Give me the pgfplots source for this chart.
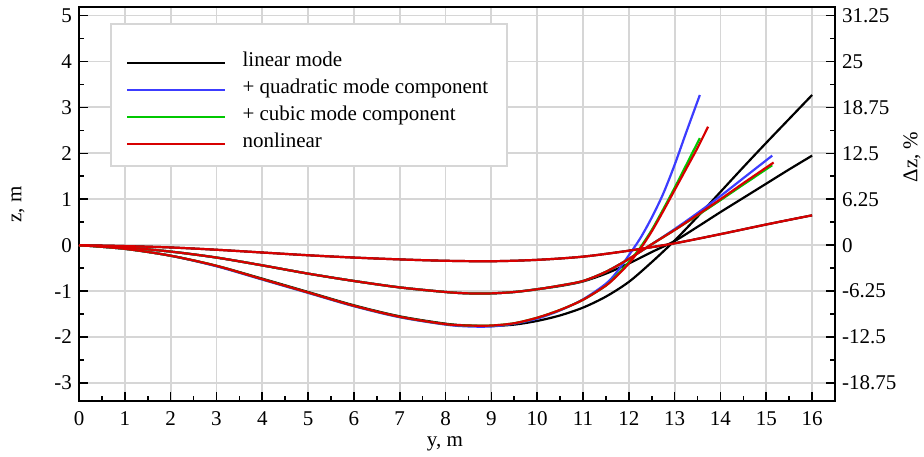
\documentclass[border=0pt]{standalone}
\usepackage{fontspec}
\setmainfont{Liberation Serif}
\usepackage{pgfplots}
\pgfplotsset{compat=1.18}

\definecolor{gridgray}{RGB}{214,214,214}
\definecolor{cblue}{RGB}{60,60,255}
\definecolor{cgreen}{RGB}{0,200,0}
\definecolor{cred}{RGB}{215,0,0}

% deep mode family
\pgfplotstableread{
x y
0 0
1 -0.08
2 -0.23
3 -0.45
4 -0.73
5 -1.02
6 -1.31
7 -1.55
8 -1.71
8.5 -1.75
9 -1.76
9.5 -1.73
10 -1.65
10.5 -1.53
11 -1.36
11.5 -1.12
12 -0.80
12.5 -0.37
13 0.10
13.5 0.62
14 1.16
14.5 1.70
15 2.23
15.5 2.75
16 3.27
}\deepblack
\pgfplotstableread{
x y
0 0
1 -0.08
2 -0.23
3 -0.46
4 -0.75
5 -1.04
6 -1.33
7 -1.57
8 -1.73
8.5 -1.77
9 -1.77
9.5 -1.71
10 -1.60
10.5 -1.42
11 -1.18
11.5 -0.84
11.75 -0.57
12 -0.22
12.25 0.15
12.5 0.60
12.75 1.12
13 1.75
13.25 2.45
13.55 3.27
}\deepblue
\pgfplotstableread{
x y
0 0
1 -0.08
2 -0.23
3 -0.45
4 -0.74
5 -1.03
6 -1.32
7 -1.56
8 -1.72
8.5 -1.75
9 -1.75
9.5 -1.70
10 -1.58
10.5 -1.41
11 -1.19
11.5 -0.88
11.75 -0.64
12 -0.37
12.25 -0.05
12.5 0.33
12.75 0.78
13 1.25
13.25 1.74
13.55 2.33
}\deepgreen
\pgfplotstableread{
x y
0 0
1 -0.08
2 -0.23
3 -0.45
4 -0.74
5 -1.03
6 -1.32
7 -1.56
8 -1.72
8.5 -1.75
9 -1.75
9.5 -1.70
10 -1.58
10.5 -1.41
11 -1.19
11.5 -0.88
11.75 -0.66
12 -0.40
12.25 -0.08
12.5 0.30
12.75 0.74
13 1.20
13.25 1.66
13.5 2.12
13.73 2.58
}\deepred

% middle mode family
\pgfplotstableread{
x y
0 0
1 -0.05
2 -0.14
3 -0.27
4 -0.44
5 -0.62
6 -0.78
7 -0.92
8 -1.02
8.5 -1.05
9 -1.05
9.5 -1.02
10 -0.96
10.5 -0.89
11 -0.79
11.5 -0.62
12 -0.40
12.5 -0.15
13 0.09
13.5 0.40
14 0.72
14.5 1.03
15 1.34
15.5 1.65
16 1.95
}\midblack
\pgfplotstableread{
x y
0 0
1 -0.05
2 -0.14
3 -0.27
4 -0.44
5 -0.62
6 -0.78
7 -0.92
8 -1.02
8.5 -1.05
9 -1.05
9.5 -1.02
10 -0.96
10.5 -0.88
11 -0.78
11.5 -0.58
12 -0.30
12.5 0.02
13 0.35
13.5 0.70
14 1.07
14.5 1.46
15.13 1.95
}\midblue
\pgfplotstableread{
x y
0 0
1 -0.05
2 -0.14
3 -0.27
4 -0.44
5 -0.62
6 -0.78
7 -0.92
8 -1.02
8.5 -1.05
9 -1.05
9.5 -1.02
10 -0.96
10.5 -0.88
11 -0.78
11.5 -0.58
12 -0.30
12.5 0.02
13 0.33
13.5 0.65
14 0.98
14.5 1.32
15.13 1.74
}\midgreen
\pgfplotstableread{
x y
0 0
1 -0.05
2 -0.14
3 -0.27
4 -0.44
5 -0.62
6 -0.78
7 -0.92
8 -1.02
8.5 -1.05
9 -1.05
9.5 -1.02
10 -0.96
10.5 -0.88
11 -0.78
11.5 -0.58
12 -0.30
12.5 0.02
13 0.33
13.5 0.66
14 1.00
14.5 1.35
15.16 1.80
}\midred

% shallow mode family
\pgfplotstableread{
x y
0 0
1 -0.02
2 -0.05
3 -0.10
4 -0.16
5 -0.22
6 -0.27
7 -0.31
8 -0.34
9 -0.35
10 -0.32
11 -0.25
12 -0.12
13 0.04
14 0.24
15 0.45
16 0.65
}\shallow

\begin{document}
\begin{tikzpicture}[font=\rmfamily\fontsize{10.5pt}{12pt}\selectfont]
\begin{axis}[
  width=378pt, height=197pt, scale only axis,
  xmin=0, xmax=16.5, ymin=-3.4, ymax=5.18,
  xtick={0,1,...,16}, ytick={-3,-2,...,5},
  yticklabels={-3,-2,-1,0,1,2,3,4,5},
  minor x tick num=1, minor y tick num=1,
  xtick pos=lower, ytick pos=left,
  tick align=inside,
  major tick length=4.5pt, minor tick length=2.5pt,
  every tick/.style={black, line width=0.8pt},
  axis line style={line width=1pt},
  grid=major,
  major grid style={draw=gridgray, line width=0.9pt},
  /pgf/number format/assume math mode=true,
  tick label style={font=\rmfamily\fontsize{10.5pt}{12pt}\selectfont},
  xticklabel style={inner sep=1pt, yshift=-4pt},
  xlabel={y, m}, ylabel={z, m},
  every axis x label/.style={at={(axis description cs:0.484,-0.107)}, anchor=center, inner sep=1pt},
  every axis y label/.style={at={(axis description cs:-0.0807,0.5)}, anchor=center, rotate=90},
  legend cell align=left,
  legend image code/.code={\draw[#1, line width=1.1pt] (0pt,0pt) -- (49pt,0pt);},
  legend style={at={(0.0423,0.9576)}, anchor=north west, draw=none, fill=none,
    inner xsep=7.5pt, inner ysep=12.5pt,
    row sep=0pt, column sep=8pt,
    nodes={inner sep=0pt, text height=8.5pt, text depth=5pt},
    font=\rmfamily\fontsize{10.5pt}{12pt}\selectfont},
  every axis plot/.append style={line width=1.1pt, smooth},
]
\coordinate (bl) at (rel axis cs:0,0);
\coordinate (tr) at (rel axis cs:1,1);
\draw[gridgray, line width=0.9pt, fill=white]
  (rel axis cs:0.0423,0.9576) rectangle (rel axis cs:0.5661,0.5972);

\addplot[black] table {\deepblack};
\addlegendentry{linear mode}
\addplot[black, forget plot] table {\midblack};
\addplot[black, forget plot] table {\shallow};

\addplot[cblue] table {\deepblue};
\addlegendentry{+ quadratic mode component}
\addplot[cblue, forget plot] table {\midblue};

\addplot[cgreen] table {\deepgreen};
\addlegendentry{+ cubic mode component}
\addplot[cgreen, forget plot] table {\midgreen};

\addplot[cred] table {\deepred};
\addlegendentry{nonlinear}
\addplot[cred, forget plot] table {\midred};
\addplot[cred, forget plot] table {\shallow};
\end{axis}

\begin{axis}[
  width=378pt, height=197pt, scale only axis,
  xmin=0, xmax=16.5, ymin=-21.25, ymax=32.375,
  axis x line=none, axis y line*=right,
  ytick={-18.75,-12.5,-6.25,0,6.25,12.5,18.75,25,31.25},
  yticklabels={-18.75,-12.5,-6.25,0,6.25,12.5,18.75,25,31.25},
  minor y tick num=1,
  tick align=inside,
  major tick length=4.5pt, minor tick length=2.5pt,
  every tick/.style={black, line width=0.8pt},
  axis line style={line width=1pt},
  tick label style={font=\rmfamily\fontsize{10.5pt}{12pt}\selectfont},
  ylabel={Δz, \%},
  every axis y label/.style={at={(axis description cs:1.1019,0.62)}, anchor=center, rotate=90},
]
\end{axis}

\pgfresetboundingbox
\path ([shift={(-39.5pt,-27.7pt)}]bl) rectangle ([shift={(44.5pt,3.65pt)}]tr);
\end{tikzpicture}
\end{document}
